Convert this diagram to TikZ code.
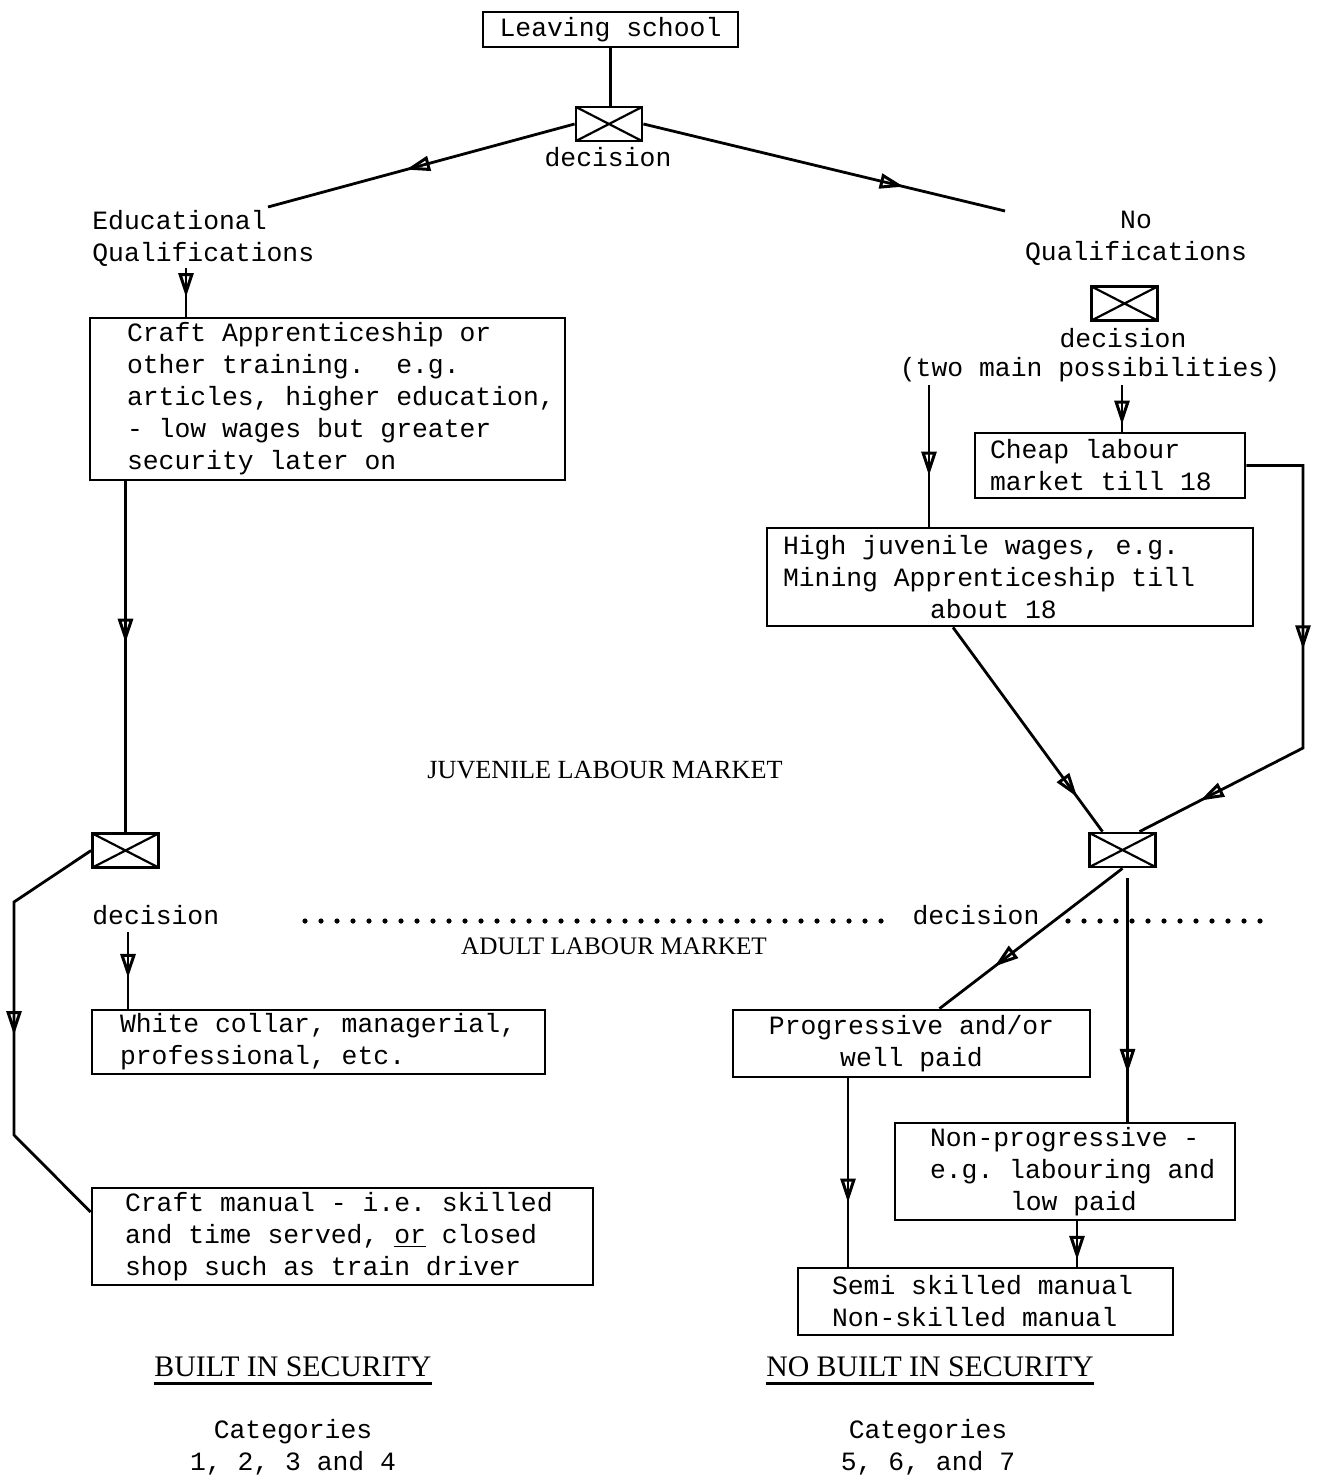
\documentclass[tikz,border=0pt]{standalone}
\usepackage{fontspec}
\setmonofont{Liberation Mono}
\newfontfamily\capsfont{Liberation Serif}
\usetikzlibrary{arrows.meta,decorations.markings}

\newcommand{\fixspace}{\spaceskip=7.92pt\relax\xspaceskip=7.92pt\relax}
\newcommand{\typed}{\ttfamily\fontsize{13.2pt}{16pt}\selectfont\frenchspacing\fixspace}
\newcommand{\padleft}[1]{\leftskip=#1\relax\fixspace}
\tikzset{x=0.5pt, y=-0.5pt, every node/.append style={font=\typed, inner sep=0pt},
    box/.style={draw, line width=1.4pt, align=left, inner xsep=3pt, inner ysep=0pt},
    decbox/.style={draw, line width=1.4pt, minimum width=33pt, minimum height=17pt,
        path picture={\draw[line width=1.1pt]
            (path picture bounding box.north west) -- (path picture bounding box.south east)
            (path picture bounding box.south west) -- (path picture bounding box.north east);}},
    flow/.style={line width=1.4pt},
    tip at/.style={postaction={decorate, decoration={markings,
        mark=at position #1 with {\arrow{Triangle[open, length=12pt, width=7.5pt, line width=1.5pt]}}}}},
    dots/.style={line width=2.6pt, line cap=round, dash pattern=on 0pt off 8pt},
    head/.style={font=\capsfont\fontsize{#1}{16pt}\selectfont}}

\begin{document}
\begin{tikzpicture}
    \useasboundingbox (0,0) rectangle (1317,1476);
    % left column
    \node[box, align=center, text width=121.5pt, minimum height=17.5pt] (school) at (610.5,29.5) {\fixspace Leaving school};
    \node[decbox] (dec1) at (609,124) {};
    \node (dec1lab) at (608,157) {decision};
    \coordinate (eduend) at (268,207);
    \coordinate (noend) at (1005,211);
    \node[anchor=west, align=left] (edu) at (92,238) {Educational\\Qualifications};
    \node[align=center] (noq) at (1136,238) {No\\Qualifications};
    \node[box, text width=231.5pt, minimum height=81pt] (appr) at (327.5,399)
        {\padleft{15.5pt}Craft Apprenticeship or\\other training.\ \ e.g.\\articles, higher education,\\- low wages but greater\\security later on\par};
    \node[decbox] (dec2) at (125.5,850.5) {};
    \node[anchor=west] (dec2lab) at (92,915) {decision};
    \node[box, text width=220.5pt, minimum height=32pt] (collar) at (318.5,1042)
        {\padleft{11pt}White collar, managerial,\\professional, etc.\par};
    \node[box, text width=244.5pt, minimum height=48.5pt] (craftman) at (342.5,1236.5)
        {\padleft{13.5pt}Craft manual - i.e. skilled\\and time served, \underline{or} closed\\shop such as train driver\par};
    % right column
    \node[decbox] (dec3) at (1124.5,303.5) {};
    \node (dec3lab) at (1123,338) {decision};
    \node (twoway) at (1090,370) {(two main possibilities)};
    \node[box, text width=129pt, minimum height=32.5pt] (cheap) at (1110,465.5)
        {\padleft{4.5pt}Cheap labour\\market till 18\par};
    \node[box, text width=237pt, minimum height=49pt] (highjuv) at (1010,577)
        {\padleft{5pt}High juvenile wages, e.g.\\Mining Apprenticeship till\\\hspace*{73.5pt}about 18\par};
    \node[decbox] (dec4) at (1122.5,850) {};
    \node (dec4lab) at (976,915) {decision};
    \node[box, align=center, text width=172.5pt, minimum height=33.5pt] (prog) at (911.5,1043.5)
        {\fixspace Progressive and/or\\well paid};
    \node[box, text width=164pt, minimum height=48.5pt] (nonprog) at (1065,1171.5)
        {\padleft{14.5pt}Non-progressive -\\e.g. labouring and\\\hspace*{40pt}low paid\par};
    \node[box, text width=181.5pt, minimum height=33.5pt] (semi) at (985.5,1301.5)
        {\padleft{14pt}Semi skilled manual\\Non-skilled manual\par};
    % markets and footings
    \node[head=13.1pt] (juv) at (605,770) {JUVENILE LABOUR MARKET};
    \node[head=12.6pt] (adult) at (614,946) {ADULT LABOUR MARKET};
    \draw[dots] (305,921) -- (895,921);
    \draw[dots] (1068,921) -- (1262,921);
    \node[head=14.9pt] (built) at (293,1367) {BUILT IN SECURITY};
    \node[head=14.9pt] (nobuilt) at (930,1367) {NO BUILT IN SECURITY};
    \draw[flow] ([yshift=-3pt]built.south west) -- ([yshift=-3pt]built.south east);
    \draw[flow] ([yshift=-3pt]nobuilt.south west) -- ([yshift=-3pt]nobuilt.south east);
    \node[align=center] (cat1) at (293,1447) {Categories\\1, 2, 3 and 4};
    \node[align=center] (cat2) at (928,1447) {Categories\\5, 6, and 7};
    % connectors
    \draw[flow] (school.south) -- (school.south |- dec1.north);
    \draw[flow, tip at=0.55] (dec1.west) -- (eduend);
    \draw[flow, tip at=0.72] (dec1.east) -- (noend);
    \coordinate (edudown) at (186,268);
    \draw[flow, tip at=0.6] (edudown) -- (edudown |- appr.north);
    \draw[flow, tip at=0.46] (dec2.north |- appr.south) -- (dec2.north);
    \draw[flow, tip at=0.52] (dec2.west) -- (14,902) -- (14,1135) -- (craftman.west |- 0,1212);
    \coordinate (collarin) at (128,932);
    \draw[flow, tip at=0.6] (collarin) -- (collarin |- collar.north);
    \coordinate (cheapin) at (1122,385);
    \draw[flow, tip at=0.85] (cheapin) -- (cheapin |- cheap.north);
    \coordinate (juvin) at (929,385);
    \draw[flow, tip at=0.64] (juvin) -- (juvin |- highjuv.north);
    \draw[flow, tip at=0.46, tip at=0.87] (cheap.east) -- (1303,465.5) -- (1303,748) -- ([xshift=8.5pt]dec4.north);
    \draw[flow, tip at=0.83] ([xshift=-28.5pt]highjuv.south) -- ([xshift=-10pt]dec4.north);
    \draw[flow, tip at=0.7] (dec4.south) -- ([xshift=14pt]prog.north);
    \coordinate (dec4out) at ([xshift=2.5pt, yshift=-5pt]dec4.south);
    \draw[flow, tip at=0.8] (dec4out) -- (dec4out |- nonprog.north);
    \coordinate (progout) at ([xshift=-31.75pt]prog.south);
    \draw[flow, tip at=0.66] (progout) -- (progout |- semi.north);
    \coordinate (nonout) at ([xshift=6pt]nonprog.south);
    \draw[flow, tip at=0.85] (nonout) -- (nonout |- semi.north);
\end{tikzpicture}
\end{document}
